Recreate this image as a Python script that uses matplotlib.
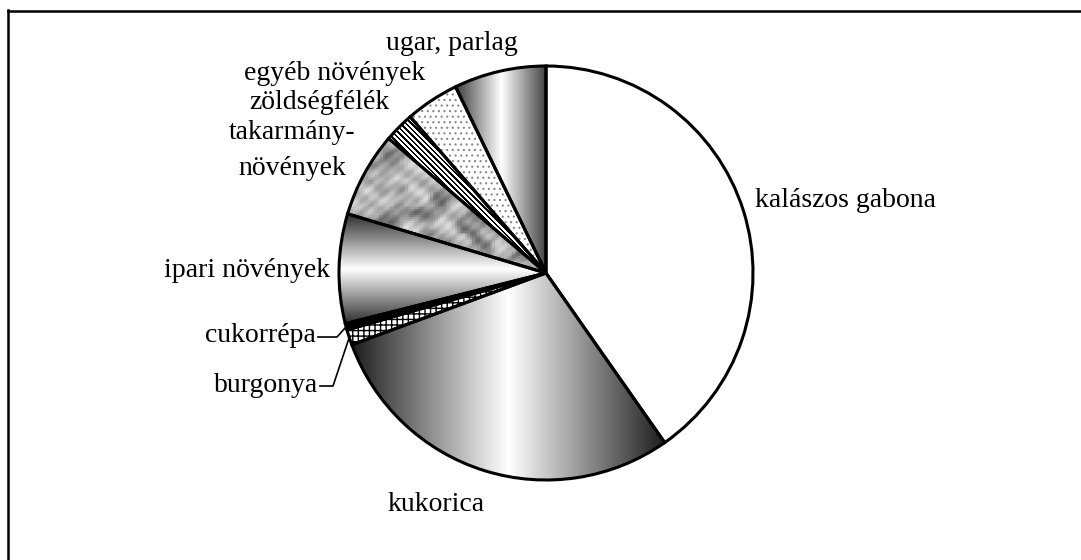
import numpy as np
import matplotlib
matplotlib.use('Agg')
import matplotlib.pyplot as plt
from matplotlib.patches import Wedge

# ---- data ----
categories = ['kalászos gabona', 'kukorica', 'burgonya', 'cukorrépa',
              'ipari növények', 'takarmány-\nnövények', 'zöldségfélék',
              'egyéb növények', 'ugar, parlag']
values = [40.3, 29.1, 1.2, 0.5, 8.55, 6.65, 2.35, 4.2, 7.2]

# ---- layout (pixel coords, y from top) ----
W, H = 1081, 560
CX, CY_TOP, R = 546, 273, 207
CY = H - CY_TOP
label_pos = {
    'kalászos gabona': (755, 207, 'left'),
    'kukorica': (387, 511, 'left'),
    'burgonya': (318, 392, 'right'),
    'cukorrépa': (316, 342, 'right'),
    'ipari növények': (330, 277, 'right'),
    'zöldségfélék': (389, 109, 'right'),
    'egyéb növények': (425, 80, 'right'),
    'ugar, parlag': (518, 50, 'right'),
}

fig = plt.figure(figsize=(W / 100, H / 100), dpi=100)
ax = fig.add_axes([0, 0, 1, 1])
wedges, _ = ax.pie(values, startangle=90, counterclock=False,
                   center=(CX, CY), radius=R, frame=False,
                   wedgeprops=dict(linewidth=0, edgecolor='none', facecolor='white'))


def fix_limits():
    ax.set_xlim(0, W)
    ax.set_ylim(0, H)
    ax.set_aspect('equal')
    ax.axis('off')


def grad(w, direction, dark, n=256):
    ext = w.get_path().get_extents()
    t = np.linspace(0, 1, n)
    prof = dark + (1 - dark) * (1 - np.abs(2 * t - 1))
    img = np.tile(prof, (2, 1)) if direction == 'h' else np.tile(prof[:, None], (1, 2))
    im = ax.imshow(img, cmap='gray', vmin=0, vmax=1, origin='lower',
                   extent=(ext.x0, ext.x1, ext.y0, ext.y1),
                   interpolation='bilinear', aspect='auto', zorder=2)
    im.set_clip_path(w)


def texture(w):
    ext = w.get_path().get_extents()
    nx, ny = 80, 70
    X, Y = np.meshgrid(np.linspace(0, 1, nx), np.linspace(0, 1, ny))
    turb = (0.9 * np.sin(7.3 * X + 3.1 * Y) + 0.6 * np.sin(11.7 * Y - 5.2 * X)
            + 0.35 * np.sin(23.1 * X + 17.3 * Y) + 0.2 * np.sin(41.7 * X - 29.9 * Y))
    v = (0.63 + 0.13 * np.sin(14 * (X - 0.8 * Y) + 2.2 * turb)
         + 0.07 * np.sin(37 * X + 26 * Y + 1.3 * turb)
         + 0.04 * np.sin(91 * X - 73 * Y))
    im = ax.imshow(np.clip(v, 0, 1), cmap='gray', vmin=0, vmax=1, origin='lower',
                   extent=(ext.x0, ext.x1, ext.y0, ext.y1),
                   interpolation='nearest', aspect='auto', zorder=2)
    im.set_clip_path(w)


def stripes(w, period=5.0):
    ext = w.get_path().get_extents()
    x0, x1 = np.floor(ext.x0), np.ceil(ext.x1)
    y0, y1 = np.floor(ext.y0), np.ceil(ext.y1)
    X, Y = np.meshgrid(np.arange(x0, x1) + 0.5, np.arange(y0, y1) + 0.5)
    v = np.where(((X + Y) % period) < period * 0.45, 0.0, 1.0)
    im = ax.imshow(v, cmap='gray', vmin=0, vmax=1, origin='lower',
                   extent=(x0, x1, y0, y1),
                   interpolation='nearest', aspect='auto', zorder=2)
    im.set_clip_path(w)


def hatch(w, pattern, color, lw):
    plt.rcParams['hatch.linewidth'] = lw
    h = Wedge(w.center, w.r, w.theta1, w.theta2, fill=False, hatch=pattern,
              edgecolor=color, linewidth=0, zorder=2.5)
    ax.add_patch(h)


grad(wedges[1], 'h', 0.12)
hatch(wedges[2], '+++', 'black', 1.0)
wedges[3].set_facecolor('black')
grad(wedges[4], 'v', 0.18)
texture(wedges[5])
stripes(wedges[6], 5.5)
hatch(wedges[7], '...', '#888888', 0.8)
grad(wedges[8], 'h', 0.25)

for w in wedges:
    ax.add_patch(Wedge(w.center, w.r, w.theta1, w.theta2, fill=False,
                       edgecolor='black', linewidth=2.2, zorder=4))

fix_limits()

font = dict(family='Liberation Serif', fontsize=20, color='black')
for name, (x, yb, ha) in label_pos.items():
    ax.text(x, H - yb, name, ha=ha, va='baseline', zorder=5, **font)
ax.text(292, H - 139, 'takarmány-', ha='center', va='baseline', zorder=5, **font)
ax.text(292, H - 175, 'növények', ha='center', va='baseline', zorder=5, **font)


def edge_pt(w):
    th = np.deg2rad((w.theta1 + w.theta2) / 2)
    return CX + R * np.cos(th), CY + R * np.sin(th)


bx, by = edge_pt(wedges[2])
ax.plot([320, 333, bx], [H - 386, H - 386, by], color='black', lw=1.2, zorder=5)
cx_, cy_ = edge_pt(wedges[3])
ax.plot([318, 337, cx_], [H - 337, H - 337, cy_], color='black', lw=1.2, zorder=5)

# frame
ax.plot([8, 8], [H - 10, 0], color='black', lw=1.8, zorder=5)
ax.plot([8, W], [H - 11, H - 11], color='black', lw=1.8, zorder=5)
fix_limits()

fig.savefig('out.png', dpi=100)
